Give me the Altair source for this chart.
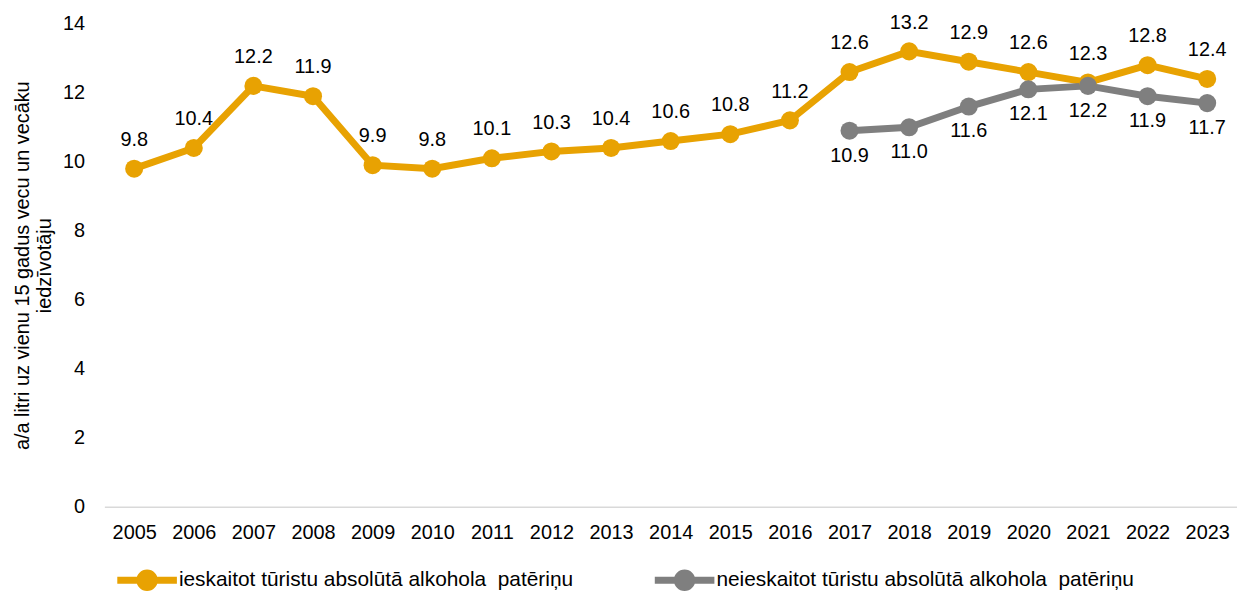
import altair as alt
import pandas as pd

years = [str(y) for y in range(2005, 2024)]
incl_values = [9.8, 10.4, 12.2, 11.9, 9.9, 9.8, 10.1, 10.3, 10.4, 10.6, 10.8, 11.2,
               12.6, 13.2, 12.9, 12.6, 12.3, 12.8, 12.4]
excl_years = [str(y) for y in range(2017, 2024)]
excl_values = [10.9, 11.0, 11.6, 12.1, 12.2, 11.9, 11.7]

s1 = "ieskaitot tūristu absolūtā alkohola \u00a0patēriņu"
s2 = "neieskaitot tūristu absolūtā alkohola \u00a0patēriņu"

df = pd.concat([
    pd.DataFrame({"year": years, "value": incl_values, "series": s1}),
    pd.DataFrame({"year": excl_years, "value": excl_values, "series": s2}),
])

FONT = "Liberation Sans"
ORANGE = "#E8A202"
GRAY = "#7F7F7F"

x = alt.X(
    "year:O",
    title=None,
    scale=alt.Scale(paddingInner=0, paddingOuter=0),
    axis=alt.Axis(labelAngle=0, ticks=False, domainColor="#D9D9D9", domainWidth=1.5,
                  labelFontSize=20, labelFont=FONT, labelColor="#000000", labelPadding=16),
)
y = alt.Y(
    "value:Q",
    scale=alt.Scale(domain=[0, 14]),
    title=["a/a litri uz vienu 15 gadus vecu un vecāku", "iedzīvotāju"],
    axis=alt.Axis(values=[0, 2, 4, 6, 8, 10, 12, 14], grid=False, domain=False, ticks=False,
                  labelFontSize=20, labelFont=FONT, labelColor="#000000", labelPadding=20,
                  titleFontSize=20, titleFont=FONT, titleFontWeight="normal", titleColor="#000000",
                  titlePadding=8, titleLineHeight=22),
)

color_scale = alt.Scale(domain=[s1, s2], range=[ORANGE, GRAY])

legend_path = ("M-1,-0.12L-0.3,-0.12L-0.3,0.12L-1,0.12Z "
               "M0.3,-0.12L1,-0.12L1,0.12L0.3,0.12Z "
               "M0.36,0A0.36,0.36 0 1,1 -0.36,0A0.36,0.36 0 1,1 0.36,0Z")

legend = alt.Legend(
    title=None, orient="none", direction="horizontal",
    legendX=13, legendY=530,
    symbolType=legend_path, symbolSize=3600, symbolStrokeWidth=0,
    symbolFillColor=None,
    labelFontSize=21, labelFont=FONT, labelColor="#000000",
    labelOffset=2, columnPadding=82, labelLimit=600,
)

chart_base = alt.Chart(df).encode(x=x, y=y)

lines_points = chart_base.mark_line(
    strokeWidth=7,
    point=alt.OverlayMarkDef(filled=True, size=330, opacity=1),
).encode(color=alt.Color("series:N", scale=color_scale, legend=legend))

labels_top = chart_base.transform_filter(alt.datum.series == s1).mark_text(
    dy=-29, fontSize=20, font=FONT, color="#000000"
).encode(text=alt.Text("value:Q", format=".1f"))

labels_bottom = chart_base.transform_filter(alt.datum.series == s2).mark_text(
    dy=25, fontSize=20, font=FONT, color="#000000"
).encode(text=alt.Text("value:Q", format=".1f"))

chart = alt.layer(lines_points, labels_top, labels_bottom).properties(
    width=1140,
    height=486,
    padding={"left": 97, "top": 14, "right": 0, "bottom": 84},
    autosize=alt.AutoSizeParams(type="none"),
).configure(background="white").configure_view(stroke=None).configure_axisY(domain=False)

chart.save("out.html", embed_options={"renderer": "svg", "actions": False})
